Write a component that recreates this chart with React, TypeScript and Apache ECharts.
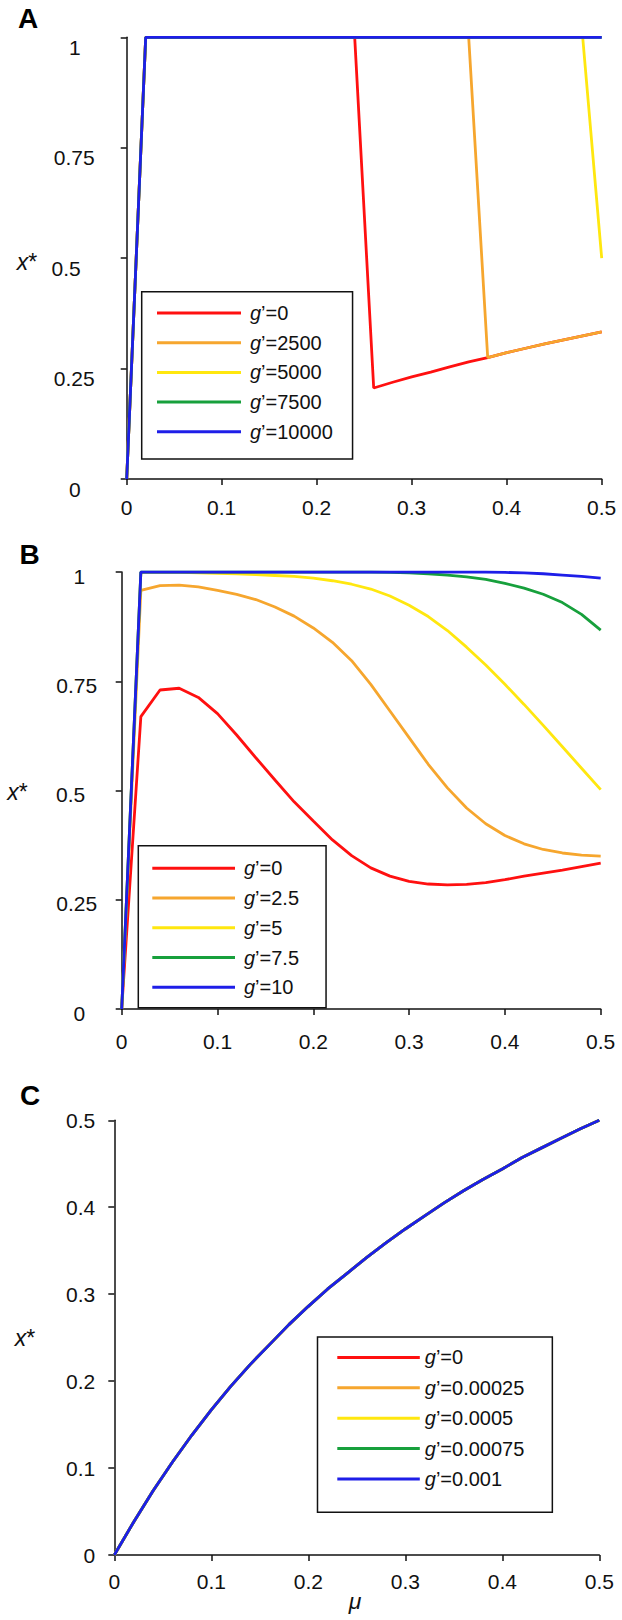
import React, { useEffect, useRef } from "react";
import * as echarts from "echarts";

// ---------- data ----------
const MU = [0, 0.02, 0.04, 0.06, 0.08, 0.1, 0.12, 0.14, 0.16, 0.18, 0.2, 0.22, 0.24, 0.26, 0.28, 0.3, 0.32, 0.34, 0.36, 0.38, 0.4, 0.42, 0.44, 0.46, 0.48, 0.5];

const COLORS = ["#ff1010", "#f6a62e", "#ffe70f", "#17a03c", "#1e1ee8"];

// Panel A
const A_LABELS = ["0", "2500", "5000", "7500", "10000"];
const A_G0 = [0, 1, 1, 1, 1, 1, 1, 1, 1, 1, 1, 1, 1, 0.206, 0.219, 0.231, 0.242, 0.254, 0.265, 0.275, 0.286, 0.296, 0.306, 0.315, 0.324, 0.333];
const A_G2500 = [0, 1, 1, 1, 1, 1, 1, 1, 1, 1, 1, 1, 1, 1, 1, 1, 1, 1, 1, 0.275, 0.286, 0.296, 0.306, 0.315, 0.324, 0.333];
const A_G5000 = [0, 1, 1, 1, 1, 1, 1, 1, 1, 1, 1, 1, 1, 1, 1, 1, 1, 1, 1, 1, 1, 1, 1, 1, 1, 0.5];
const A_G7500 = [0, 1, 1, 1, 1, 1, 1, 1, 1, 1, 1, 1, 1, 1, 1, 1, 1, 1, 1, 1, 1, 1, 1, 1, 1, 1];
const A_G10000 = [0, 1, 1, 1, 1, 1, 1, 1, 1, 1, 1, 1, 1, 1, 1, 1, 1, 1, 1, 1, 1, 1, 1, 1, 1, 1];

// Panel B
const B_LABELS = ["0", "2.5", "5", "7.5", "10"];
const B_G0 = [0, 0.669, 0.73, 0.734, 0.713, 0.676, 0.627, 0.575, 0.524, 0.474, 0.43, 0.387, 0.351, 0.323, 0.304, 0.292, 0.286, 0.284, 0.285, 0.289, 0.296, 0.304, 0.311, 0.318, 0.326, 0.334];
const B_G2_5 = [0, 0.958, 0.969, 0.97, 0.966, 0.958, 0.949, 0.937, 0.92, 0.899, 0.872, 0.839, 0.797, 0.743, 0.682, 0.621, 0.56, 0.506, 0.46, 0.424, 0.397, 0.378, 0.365, 0.357, 0.352, 0.35];
const B_G5 = [0, 0.999, 0.999, 0.999, 0.998, 0.997, 0.996, 0.994, 0.992, 0.99, 0.986, 0.98, 0.972, 0.961, 0.945, 0.924, 0.898, 0.866, 0.828, 0.787, 0.743, 0.697, 0.649, 0.6, 0.551, 0.502];
const B_G7_5 = [0, 1, 1, 1, 1, 1, 1, 1, 1, 1, 1, 1, 1, 1, 0.999, 0.998, 0.996, 0.993, 0.989, 0.983, 0.974, 0.963, 0.949, 0.93, 0.903, 0.867];
const B_G10 = [0, 1, 1, 1, 1, 1, 1, 1, 1, 1, 1, 1, 1, 1, 1, 1, 1, 1, 1, 1, 0.999, 0.998, 0.996, 0.993, 0.99, 0.986];

// Panel C (all five curves coincide)
const C_LABELS = ["0", "0.00025", "0.0005", "0.00075", "0.001"];
const C_ALL = [0, 0.038, 0.074, 0.107, 0.138, 0.167, 0.194, 0.219, 0.242, 0.265, 0.286, 0.306, 0.324, 0.342, 0.359, 0.375, 0.39, 0.405, 0.419, 0.432, 0.444, 0.457, 0.468, 0.479, 0.49, 0.5];

const FONT = "'Liberation Sans', Arial, sans-serif";
const TICK_FS = 21;

export default function App() {
  const ref = useRef<HTMLDivElement>(null);

  useEffect(() => {
    if (!ref.current) return;
    const chart = echarts.init(ref.current, null, { renderer: "svg" });

    const axisLine = { show: true, lineStyle: { color: "#111", width: 1.5 } };
    const axisTick = { show: true, length: 6, lineStyle: { color: "#111", width: 1.5 } };

    const mkSeries = (panel: string, idx: number, labels: string[], arrays: number[][]) =>
      arrays.map((vals, i) => ({
        name: `${panel}:${labels[i]}`,
        type: "line",
        xAxisIndex: idx,
        yAxisIndex: idx,
        symbol: "none",
        silent: true,
        z: 2 + i,
        lineStyle: { width: 2.8, color: COLORS[i] },
        itemStyle: { color: COLORS[i] },
        data: MU.map((m, j) => [m, vals[j]]),
      }));

    const legendRich = (gapLeft: number) => ({
      g: { fontStyle: "italic", fontSize: 20, fontFamily: FONT, color: "#111", padding: [0, 0, 0, gapLeft], lineHeight: 20 },
      r: { fontSize: 20, fontFamily: FONT, color: "#111", lineHeight: 20 },
    });
    const legendFmt = (n: string) => `{g|g}{r|\u2019=${n.split(":")[1]}}`;

    const mkLegend = (panel: string, labels: string[], left: number, top: number, padding: number[], itemGap: number, itemWidth: number, gapLeft: number) => ({
      orient: "vertical",
      left,
      top,
      padding,
      itemGap,
      itemWidth,
      itemHeight: 3,
      icon: "rect",
      borderColor: "#111",
      borderWidth: 1.5,
      borderRadius: 0,
      backgroundColor: "#fff",
      selectedMode: false,
      data: labels.map((l) => `${panel}:${l}`),
      formatter: legendFmt,
      textStyle: { fontSize: 20, lineHeight: 20, fontFamily: FONT, color: "#111", rich: legendRich(gapLeft) },
    });

    const yLabelFmt = (padTop: number, padRight: number) => ({
      formatter: (v: number) => {
        const s = String(v);
        return s.length >= 4 ? `{n|${s}}` : `{s|${s}}`;
      },
      rich: {
        n: { fontSize: TICK_FS, fontFamily: FONT, color: "#111", padding: [padTop, 0, 0, 0] },
        s: { fontSize: TICK_FS, fontFamily: FONT, color: "#111", padding: [padTop, padRight, 0, 0] },
      },
    });

    const xAxisBase = (gridIndex: number, margin: number, offset: number) => ({
      type: "value",
      gridIndex,
      min: 0,
      max: 0.5,
      interval: 0.1,
      offset,
      axisLine,
      axisTick,
      splitLine: { show: false },
      axisLabel: { fontSize: TICK_FS, fontFamily: FONT, color: "#111", margin },
    });

    const letter = (t: string, x: number, y: number) => ({
      type: "text", x, y,
      style: { text: t, font: `bold 28px ${FONT}`, fill: "#000", align: "left", verticalAlign: "middle" },
    });

    const option: any = {
      animation: false,
      backgroundColor: "#fff",
      textStyle: { fontFamily: FONT },
      grid: [
        { left: 126.7, top: 37.3, width: 475, height: 441.7, outerBoundsMode: "none" },
        { left: 121.7, top: 572, width: 479, height: 437, outerBoundsMode: "none" },
        { left: 114.3, top: 1120.3, width: 485, height: 434.7, outerBoundsMode: "none" },
      ],
      xAxis: [xAxisBase(0, 18, 0), xAxisBase(1, 17.5, 4), xAxisBase(2, 16, 0)],
      yAxis: [
        {
          type: "value", gridIndex: 0, min: 0, max: 1, interval: 0.25,
          axisLine, axisTick, splitLine: { show: false },
          axisLabel: { margin: 32, ...yLabelFmt(20, 14) },
        },
        {
          type: "value", gridIndex: 1, min: 0, max: 1, interval: 0.25, offset: 5,
          axisLine, axisTick, splitLine: { show: false },
          axisLabel: { margin: 19.5, ...yLabelFmt(8, 12) },
        },
        {
          type: "value", gridIndex: 2, min: 0, max: 0.5, interval: 0.1,
          axisLine, axisTick, splitLine: { show: false },
          axisLabel: { margin: 19, fontSize: TICK_FS, fontFamily: FONT, color: "#111", padding: [7, 0, 0, 0] },
        },
      ],
      legend: [
        mkLegend("A", A_LABELS, 141.7, 291.7, [11.3, 19.7, 17.2, 15.3], 9.7, 84, 4),
        mkLegend("B", B_LABELS, 138.3, 845.7, [12.6, 27, 10.4, 14], 9.75, 82.7, 4),
        mkLegend("C", C_LABELS, 317.5, 1337, [10.4, 28, 23.3, 19.8], 10.4, 82.5, 0),
      ],
      series: [
        ...mkSeries("A", 0, A_LABELS, [A_G0, A_G2500, A_G5000, A_G7500, A_G10000]),
        ...mkSeries("B", 1, B_LABELS, [B_G0, B_G2_5, B_G5, B_G7_5, B_G10]),
        ...mkSeries("C", 2, C_LABELS, [C_ALL, C_ALL, C_ALL, C_ALL, C_ALL]),
      ],
      graphic: [
        letter("A", 18, 18.7),
        letter("B", 19.5, 554),
        letter("C", 20, 1095.5),
        ...[
          [27, 262],
          [17.5, 792],
          [25, 1338],
        ].map(([x, y]) => ({
          type: "text",
          x,
          y,
          style: {
            text: "{i|x}{n|*}",
            align: "center",
            verticalAlign: "middle",
            fill: "#111",
            rich: {
              i: { fontStyle: "italic", fontSize: 23, fontFamily: FONT, fill: "#111" },
              n: { fontSize: 23, fontFamily: FONT, fill: "#111" },
            },
          },
        })),
        { type: "text", x: 355, y: 1601, style: { text: "\u03bc", font: `italic 23px ${FONT}`, fill: "#111", align: "center", verticalAlign: "middle" } },
      ],
    };

    chart.setOption(option);
    return () => chart.dispose();
  }, []);

  return <div ref={ref} style={{ position: "absolute", left: 0, top: 0, width: 622, height: 1620 }} />;
}
